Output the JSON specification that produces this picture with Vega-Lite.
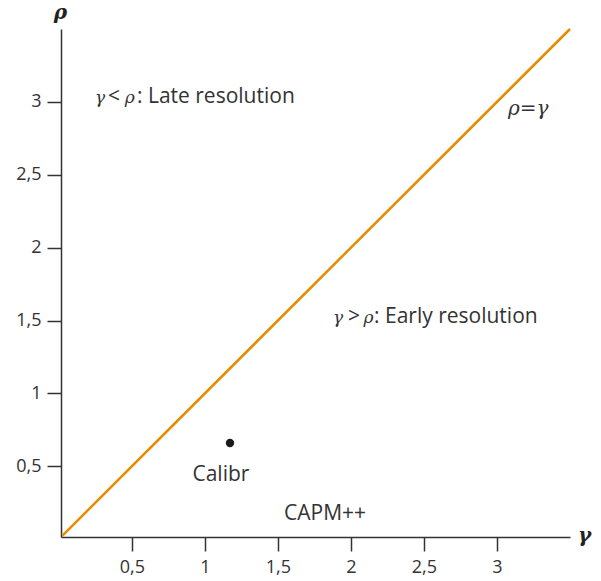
{
  "$schema": "https://vega.github.io/schema/vega-lite/v6.json",
  "width": 509,
  "height": 508,
  "autosize": {"type": "none"},
  "padding": {"left": 61, "top": 29, "right": 31, "bottom": 44},
  "background": "white",
  "config": {
    "view": {"stroke": null},
    "axis": {
      "grid": false,
      "domainColor": "#333333",
      "domainWidth": 1.5,
      "tickColor": "#333333",
      "tickWidth": 1.5,
      "tickSize": 14,
      "labelFont": "Open Sans",
      "labelFontSize": 18,
      "labelColor": "#333333",
      "format": "~g",
      "labelExpr": "replace(datum.label, '.', ',')"
    }
  },
  "datasets": {
    "diag": [{"gamma": 0.025, "rho": 0.025}, {"gamma": 3.5, "rho": 3.5}],
    "models": [{"model": "Calibr", "gamma": 1.172, "rho": 0.66}],
    "sansLeft": [
      {"txt": "<", "gamma": 0.337, "rho": 2.992},
      {"txt": ": Late resolution", "gamma": 0.535, "rho": 2.992},
      {"txt": ">", "gamma": 1.980, "rho": 1.483},
      {"txt": ": Early resolution", "gamma": 2.158, "rho": 1.483}
    ],
    "sansCenter": [
      {"txt": "Calibr", "gamma": 1.11, "rho": 0.399},
      {"txt": "CAPM++", "gamma": 1.823, "rho": 0.132}
    ],
    "greek": [
      {"txt": "γ", "gamma": 0.248, "rho": 2.992},
      {"txt": "ρ", "gamma": 0.452, "rho": 2.992},
      {"txt": "γ", "gamma": 1.877, "rho": 1.483},
      {"txt": "ρ", "gamma": 2.086, "rho": 1.483}
    ],
    "diagLabel": [
      {"txt": "ρ=γ", "gamma": 3.076, "rho": 2.909}
    ]
  },
  "encoding": {
    "x": {
      "field": "gamma", "type": "quantitative",
      "scale": {"domain": [0.015, 3.5], "nice": false, "zero": false},
      "axis": {
        "values": [0.5, 1, 1.5, 2, 2.5, 3],
        "title": "γ",
        "titleFont": "DejaVu Serif",
        "titleFontStyle": "italic",
        "titleFontWeight": "bold",
        "titleFontSize": 20,
        "titleColor": "#222222",
        "titleAngle": 0,
        "titleAlign": "center",
        "titleBaseline": "alphabetic",
        "titleX": 523,
        "titleY": 4,
        "labelPadding": 7
      }
    },
    "y": {
      "field": "rho", "type": "quantitative",
      "scale": {"domain": [0.015, 3.5], "nice": false, "zero": false},
      "axis": {
        "values": [0.5, 1, 1.5, 2, 2.5, 3],
        "title": "ρ",
        "titleFont": "DejaVu Serif",
        "titleFontStyle": "italic",
        "titleFontWeight": "bold",
        "titleFontSize": 20,
        "titleColor": "#222222",
        "titleAngle": 0,
        "titleAlign": "center",
        "titleBaseline": "alphabetic",
        "titleX": -1,
        "titleY": -11,
        "labelPadding": 6
      }
    }
  },
  "layer": [
    {
      "data": {"name": "diag"},
      "mark": {"type": "line", "color": "#E38C00", "strokeWidth": 2.5}
    },
    {
      "data": {"name": "models"},
      "mark": {"type": "point", "filled": true, "color": "#1a1a1a", "size": 70, "opacity": 1}
    },
    {
      "data": {"name": "sansLeft"},
      "mark": {"type": "text", "font": "Open Sans", "fontSize": 21, "color": "#333333", "align": "left", "baseline": "alphabetic"},
      "encoding": {"text": {"field": "txt"}}
    },
    {
      "data": {"name": "sansCenter"},
      "mark": {"type": "text", "font": "Open Sans", "fontSize": 21, "color": "#333333", "align": "center", "baseline": "alphabetic"},
      "encoding": {"text": {"field": "txt"}}
    },
    {
      "data": {"name": "greek"},
      "mark": {"type": "text", "font": "DejaVu Serif", "fontStyle": "italic", "fontSize": 17, "color": "#333333", "align": "left", "baseline": "alphabetic"},
      "encoding": {"text": {"field": "txt"}}
    },
    {
      "data": {"name": "diagLabel"},
      "mark": {"type": "text", "font": "DejaVu Serif", "fontStyle": "italic", "fontSize": 20, "color": "#333333", "align": "left", "baseline": "alphabetic"},
      "encoding": {"text": {"field": "txt"}}
    }
  ]
}
